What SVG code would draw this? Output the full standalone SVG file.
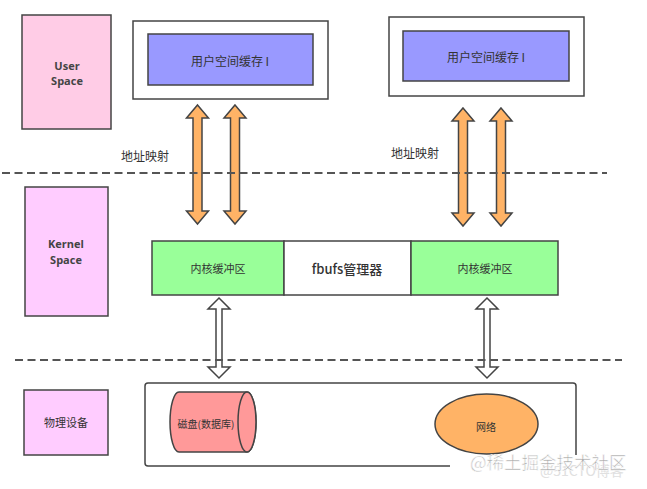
<svg xmlns="http://www.w3.org/2000/svg" width="647" height="489" viewBox="0 0 647 489">
<style>
.box{stroke:#444;stroke-width:1.5}
.t{font-family:"Noto Sans CJK SC","Liberation Sans",sans-serif;fill:#333;text-anchor:middle;dominant-baseline:central}
.b{font-weight:bold;font-family:"Open Sans","Noto Sans CJK SC",sans-serif;fill:#444}
.dash{stroke:#555;stroke-width:1.8;stroke-dasharray:8 4.5;fill:none}
.oa{fill:#ffb366;stroke:#444;stroke-width:1.5;stroke-linejoin:miter}
.ha{fill:#fff;stroke:#444;stroke-width:1.5}
</style>
<rect width="647" height="489" fill="#fff"/>

<g id="user-space"><rect class="box" x="22" y="15" width="89" height="114" fill="#ffcce6"/>
<text class="t b" x="67" y="65" font-size="11">User</text><text class="t b" x="67" y="80" font-size="11">Space</text></g>

<g id="user-buf-1"><rect class="box" x="133" y="21" width="195" height="78" fill="#fff"/>
<rect class="box" x="148" y="34" width="165" height="51" fill="#9999ff"/>
<text class="t" x="230" y="60" font-size="12">用户空间缓存 I</text></g>

<g id="user-buf-2"><rect class="box" x="389" y="17" width="195" height="79" fill="#fff"/>
<rect class="box" x="403" y="31" width="166" height="50" fill="#9999ff"/>
<text class="t" x="486" y="56" font-size="12">用户空间缓存 I</text></g>

<g id="kernel-space"><rect class="box" x="25" y="187" width="83" height="129" fill="#ffccff"/>
<text class="t b" x="66" y="243" font-size="11">Kernel</text><text class="t b" x="66" y="259" font-size="11">Space</text></g>

<g id="kbuf-1"><rect class="box" x="152" y="241" width="132" height="54" fill="#99ff99"/>
<text class="t" x="218" y="268" font-size="11">内核缓冲区</text></g>
<g id="fbufs"><rect class="box" x="284" y="241" width="127" height="54" fill="#fff"/>
<text class="t" x="347" y="268" font-size="13" font-weight="500">fbufs管理器</text></g>
<g id="kbuf-2"><rect class="box" x="411" y="241" width="147" height="54" fill="#99ff99"/>
<text class="t" x="485" y="268" font-size="11">内核缓冲区</text></g>

<g id="physical"><rect class="box" x="24" y="390" width="84" height="65" fill="#ffccff"/>
<text class="t" x="66" y="422" font-size="11">物理设备</text></g>

<g id="device-box"><rect class="box" x="145" y="383" width="431" height="83" rx="3" fill="#fff"/></g>

<g id="disk"><path class="box" d="M179,392 H247 A9,30 0 0 1 247,452 H179 A9,30 0 0 1 179,392 Z" fill="#ff9999"/>
<ellipse class="box" cx="247" cy="422" rx="9" ry="30" fill="#ff9999"/>
<text class="t" x="206" y="423" font-size="10">磁盘(数据库)</text></g>

<g id="network"><ellipse class="box" cx="486.5" cy="424" rx="51.5" ry="30" fill="#ffb366"/>
<text class="t" x="486" y="426" font-size="10">网络</text></g>

<g id="connectors">
<path class="oa" d="M197.5,105 L208.5,118 L202,118 L202,211 L208.5,211 L197.5,224 L186.5,211 L193,211 L193,118 L186.5,118 Z"/>
<path class="oa" d="M235,105 L246,118 L239.5,118 L239.5,211 L246,211 L235,224 L224,211 L230.5,211 L230.5,118 L224,118 Z"/>
<path class="oa" d="M463,108 L474,121 L467.5,121 L467.5,213 L474,213 L463,226 L452,213 L458.5,213 L458.5,121 L452,121 Z"/>
<path class="oa" d="M501,108 L512,121 L505.5,121 L505.5,213 L512,213 L501,226 L490,213 L496.5,213 L496.5,121 L490,121 Z"/>
<path class="ha" d="M219,298 L230,309 L222,309 L222,367 L230,367 L219,378 L208,367 L216,367 L216,309 L208,309 Z"/>
<path class="ha" d="M487,298 L498,309 L490,309 L490,367 L498,367 L487,378 L476,367 L484,367 L484,309 L476,309 Z"/>
<line class="dash" x1="2" y1="173" x2="607" y2="173"/>
<line class="dash" x1="15" y1="360" x2="622" y2="360"/>
</g>

<text class="t" x="145" y="155" font-size="12">地址映射</text>
<text class="t" x="415" y="152" font-size="12">地址映射</text>

<g id="watermark">
<rect x="450" y="455" width="197" height="34" fill="#fff"/>
<text x="540" y="476" font-size="14" fill="#e0e0e0" font-family="Noto Sans CJK SC,sans-serif">@51CTO博客</text>
<text x="470" y="469" font-size="17.5" fill="#a8a8a8" stroke="#fff" stroke-width="0.6" font-family="Noto Sans CJK SC,sans-serif">@稀土掘金技术社区</text>
</g>
</svg>
